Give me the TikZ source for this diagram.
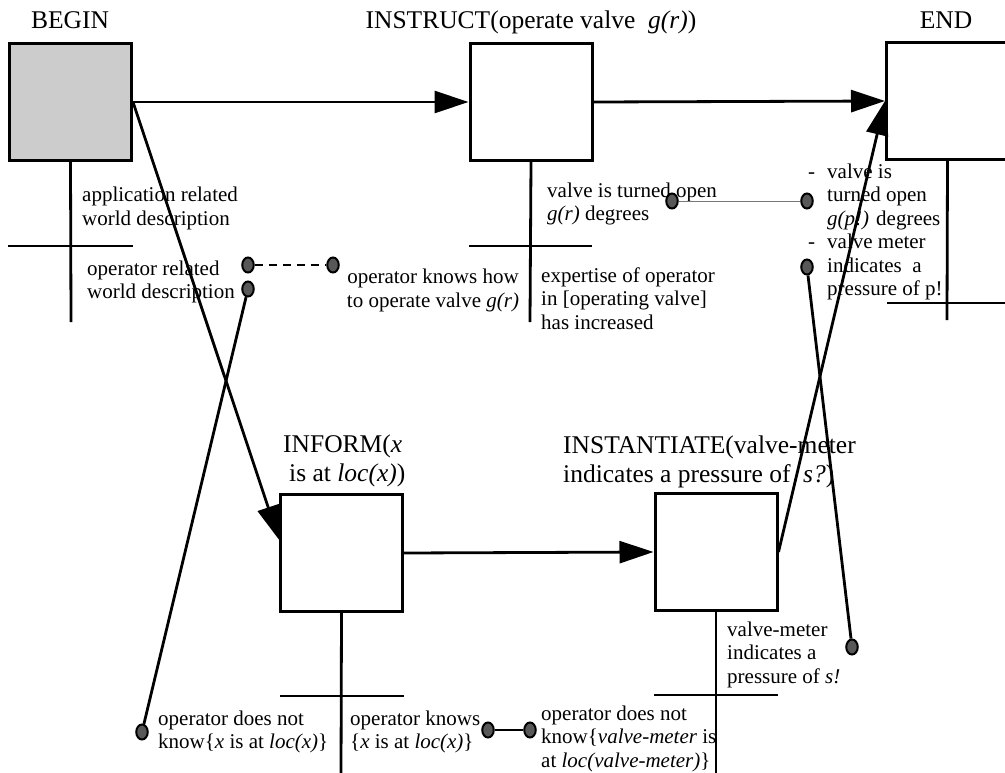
\documentclass[tikz,border=0pt]{standalone}
\usepackage{fontspec}
\setmainfont{Liberation Serif}
\usetikzlibrary{arrows.meta,shapes.geometric}
\definecolor{boxgray}{RGB}{204,204,204}
\definecolor{dotgray}{RGB}{88,88,88}
\definecolor{linkgray}{RGB}{120,120,120}

\begin{document}
\begin{tikzpicture}[x=1pt,y=-1pt,
  state/.style={draw,line width=3pt,minimum width=122pt,minimum height=117pt,inner sep=0},
  stem/.style={line width=2.8pt},
  flow/.style={line width=2.8pt,-{Triangle[length=34pt,width=22pt]}},
  link/.style={line width=2.8pt},
  dot/.style={ellipse,draw,line width=2pt,fill=dotgray,minimum width=11.5pt,minimum height=15pt,inner sep=0},
  head/.style={font=\fontsize{25.5}{29}\selectfont,inner sep=0},
  note/.style={font=\fontsize{21}{23.5}\selectfont,inner sep=0,anchor=base west,align=left},
]
\useasboundingbox (0,0) rectangle (1005,772);

% states
\node[state,fill=boxgray] (begin) at (70.5,102) {};
\node[state] (instruct) at (531,102) {};
\node[state] (end) at (947.5,101) {};
\node[state] (inform) at (341.5,553) {};
\node[state] (inst) at (716,552) {};

% state titles (multi-line nodes are placed by their last baseline)
\node[head,anchor=base] (lbegin) at (70,28) {BEGIN};
\node[head,anchor=base] (linstruct) at (531,28) {INSTRUCT(operate valve \ \textit{g(r)})};
\node[head,anchor=base] (lend) at (946,28) {END};
\node[head,anchor=base west,align=left] (linform) at (283,481) {INFORM(\textit{x}\\\hspace*{6pt}is at \textit{loc(x)})};
\node[head,anchor=base west,align=left] (linst) at (563,482) {INSTANTIATE(valve-meter\\indicates a pressure of \ \textit{s?})};

% world-description stems
\draw[stem] (begin.south) -- (71,322);
\draw[stem] (8,246) -- (133,246);
\draw[stem] (instruct.south) -- (530,322);
\draw[stem] (469,246) -- (592,246);
\draw[stem] (end.south) -- (947,320);
\draw[stem] (887,303) -- (1010,303);
\draw[stem] (inform.south) -- (341,775);
\draw[stem] (280,696) -- (404,696);
\draw[stem] (inst.south) -- (716,775);
\draw[stem] (654,695) -- (778,695);

% descriptions
\node[note] (t1) at (82,225) {application related\\world description};
\node[note] (t2) at (87,298.5) {operator related\\world description};
\node[note,align=center,anchor=base] (t3) at (433,307) {operator knows how\\to operate valve \textit{g(r)}};
\node[note] (t4) at (547,220.5) {valve is turned open\\\textit{g(r)} degrees};
\node[note] (t5) at (541,329) {expertise of operator\\in [operating valve]\\has increased};
\node[note] (t6) at (808,295.5) {\makebox[19pt][l]{-}valve is\\\hspace*{19pt}turned open\\\hspace*{19pt}\textit{g(p!)} degrees\\\makebox[19pt][l]{-}valve meter\\\hspace*{19pt}indicates\ \ a\\\hspace*{19pt}pressure of p!};
\node[note] (t7) at (727,683) {valve-meter\\indicates a\\pressure of \textit{s!}};
\node[note] (t8) at (158,748.5) {operator does not\\know\{\textit{x} is at \textit{loc(x)}\}};
\node[note] (t9) at (350,748.5) {operator knows\\\{\textit{x} is at \textit{loc(x)}\}};
\node[note] (t10) at (541,767) {operator does not\\know\{\textit{valve-meter} is\\at \textit{loc(valve-meter)}\}};

% fact markers
\node[dot] (d1) at (248,265) {};
\node[dot] (d2) at (333,265) {};
\node[dot] (d3) at (248,289) {};
\node[dot] (d4) at (142,732) {};
\node[dot] (d5) at (672,201) {};
\node[dot] (d6) at (807,201) {};
\node[dot] (d7) at (807,267) {};
\node[dot] (d8) at (852,647) {};
\node[dot] (d9) at (488,730) {};
\node[dot] (d10) at (530,730) {};

% transitions
\draw[flow] (begin.east) -- (instruct.west);
\draw[flow] (instruct.east) -- (end.west);
\draw[flow] (begin.east) -- (inform.168);
\draw[flow] (inform.east) -- (inst.west);
\draw[flow] (inst.east) -- (end.west);

% links between facts
\draw[line width=2pt,dash pattern=on 8pt off 6pt] (d1) -- (d2);
\draw[linkgray,line width=1pt] (d5) -- (d6);
\draw[link] (d3) -- (d4);
\draw[link] (d7) -- (d8);
\draw[link] (d9) -- (d10);
\end{tikzpicture}
\end{document}
